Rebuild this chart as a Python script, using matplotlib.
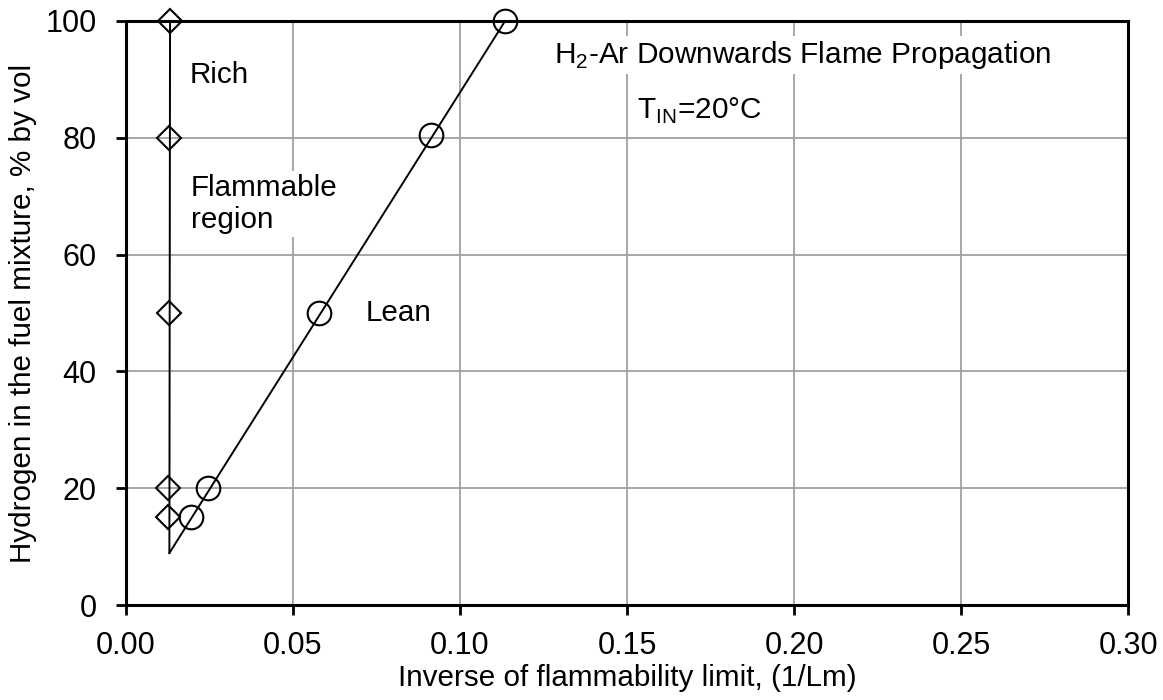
import matplotlib
matplotlib.use("Agg")
import matplotlib.pyplot as plt
from matplotlib.ticker import FormatStrFormatter

plt.rcParams['font.family'] = ['Liberation Sans', 'DejaVu Sans']
plt.rcParams['mathtext.fontset'] = 'custom'
plt.rcParams['mathtext.rm'] = 'Liberation Sans'
plt.rcParams['font.size'] = 22

# rich limit (diamonds) and lean limit (circles)
rich_x = [0.0132, 0.0130, 0.0129, 0.0125, 0.0125]
rich_y = [100, 80, 50, 20, 15]
lean_x = [0.1135, 0.0913, 0.0578, 0.0246, 0.0195]
lean_y = [100, 80.5, 50, 20, 15]

# fitted lines
rich_fit_x = [0.0130, 0.0132]
rich_fit_y = [8.9, 100]
lean_fit_x = [0.0130, 0.1135]
lean_fit_y = [8.9, 100]

xticks = [0.0, 0.05, 0.10, 0.15, 0.20, 0.25, 0.30]
yticks = [0, 20, 40, 60, 80, 100]

fig = plt.figure(figsize=(11.63, 7.0), dpi=100)
ax = fig.add_axes([0.1083, 0.1357, 0.8617, 0.8343])

ax.plot(rich_fit_x, rich_fit_y, color='black', lw=1.4, zorder=3)
ax.plot(lean_fit_x, lean_fit_y, color='black', lw=1.4, zorder=3)
ax.plot(rich_x, rich_y, 'D', ms=12.5, mfc='none', mec='black', mew=1.5,
        zorder=4, clip_on=False)
ax.plot(lean_x, lean_y, 'o', ms=17, mfc='none', mec='black', mew=1.5,
        zorder=4, clip_on=False)

ax.set_xlim(0, 0.30)
ax.set_ylim(0, 100)
ax.set_xticks(xticks)
ax.set_yticks(yticks)
ax.xaxis.set_major_formatter(FormatStrFormatter('%.2f'))
ax.grid(True, color='#a0a0a0', lw=1.3, zorder=0)
ax.set_axisbelow(True)
for s in ax.spines.values():
    s.set_linewidth(2.2)
    s.set_zorder(5)
ax.tick_params(direction='out', length=7, width=2, labelsize=22)
ax.tick_params(axis='x', pad=12)
ax.tick_params(axis='y', pad=14)

ax.set_xlabel('Inverse of flammability limit, (1/Lm)', fontsize=21.3, labelpad=2)
ax.set_ylabel('Hydrogen in the fuel mixture, % by vol', fontsize=21.3, labelpad=6)

box = dict(facecolor='white', edgecolor='none', pad=2)
ax.text(0.0192, 90.8, 'Rich', fontsize=21.3, va='center', ha='left', bbox=box, zorder=2)
ax.text(0.0195, 68.7, 'Flammable\nregion', fontsize=21.3, va='center', ha='left',
        bbox=box, zorder=2, linespacing=1.2)
ax.text(0.0716, 50, 'Lean', fontsize=21.3, va='center', ha='left', bbox=box, zorder=2)
ax.text(0.2025, 94.2, 'H$_\\mathregular{2}$-Ar Downwards Flame Propagation',
        fontsize=21.4, va='center', ha='center', bbox=box, zorder=2)
ax.text(0.153, 84.6, 'T$_\\mathregular{IN}$=20°C', fontsize=21.4, va='center',
        ha='left', bbox=box, zorder=2)

fig.savefig('out.png', dpi=100)
